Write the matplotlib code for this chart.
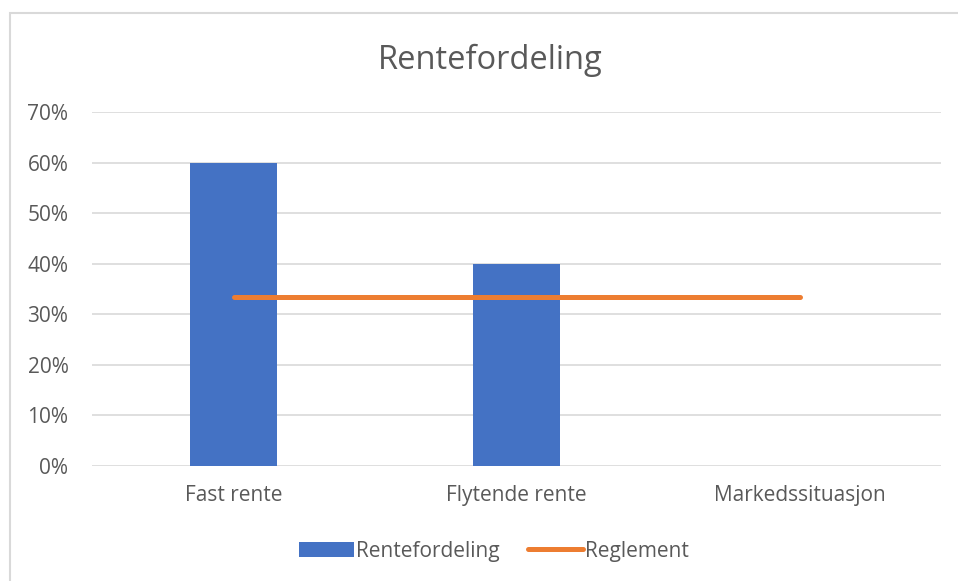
import matplotlib
matplotlib.use('Agg')
import matplotlib.pyplot as plt
from matplotlib.patches import Rectangle
from matplotlib.ticker import PercentFormatter
import numpy as np

# data
categories = ['Fast rente', 'Flytende rente', 'Markedssituasjon']
rentefordeling = [0.60, 0.40, 0.0]
reglement = [1 / 3, 1 / 3, 1 / 3]
yticks = [0, 0.1, 0.2, 0.3, 0.4, 0.5, 0.6, 0.7]

blue = '#4472C4'
orange = '#ED7D31'
grey_text = '#595959'
grid = '#D9D9D9'

plt.rcParams['font.family'] = ['Open Sans', 'DejaVu Sans']

W, H = 958, 581
fig = plt.figure(figsize=(W / 100, H / 100), dpi=100)

# chart border (left/top only visible, rest cropped)
fig.patches.append(Rectangle((10 / W, -0.1), 1.2, 1 - 13 / H + 0.1,
                             transform=fig.transFigure, fill=False,
                             edgecolor=grid, linewidth=1.5))

ax = fig.add_axes([92 / W, 1 - 466 / H, (941 - 92) / W, (466 - 112) / H])
x = np.arange(len(categories))
bars = ax.bar(x, rentefordeling, width=0.31, color=blue, label='Rentefordeling', zorder=2)
line, = ax.plot(x, reglement, color=orange, linewidth=3.6, solid_capstyle='round',
                label='Reglement', zorder=3)

ax.set_xlim(-0.5, len(categories) - 0.5)
ax.set_ylim(0, 0.7)
ax.set_yticks(yticks)
ax.yaxis.set_major_formatter(PercentFormatter(1.0, decimals=0))
ax.set_xticks(x)
ax.set_xticklabels(categories)
ax.grid(axis='y', color=grid, linewidth=1.2, zorder=0)
ax.set_axisbelow(True)
for s in ax.spines.values():
    s.set_visible(False)
ax.tick_params(axis='both', length=0, labelsize=15, colors=grey_text)
ax.tick_params(axis='y', pad=17)
ax.tick_params(axis='x', pad=14)

fig.text(490 / W, 1 - 60 / H, 'Rentefordeling', ha='center', va='center',
         fontsize=23.5, color=grey_text)

leg = fig.legend([bars, line], ['Rentefordeling', 'Reglement'], loc='center',
                 bbox_to_anchor=(494 / W, 1 - 551 / H), ncol=2,
                 frameon=False, fontsize=15, handlelength=2.6,
                 handletextpad=0.1, columnspacing=1.4)
for t in leg.get_texts():
    t.set_color(grey_text)

fig.savefig('out.png', dpi=100)
